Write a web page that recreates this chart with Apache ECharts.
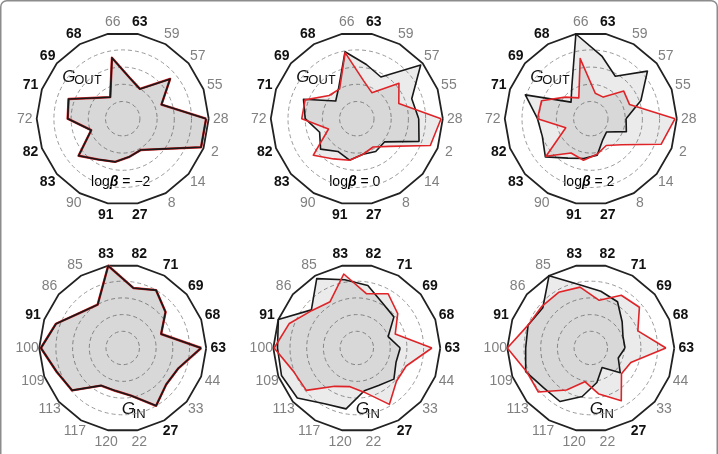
<!DOCTYPE html>
<html>
<head>
<meta charset="utf-8">
<script src="https://cdn.jsdelivr.net/npm/echarts@6/dist/echarts.min.js"></script>
<style>
  html, body { margin: 0; padding: 0; background: #fff; }
  #chart { width: 718px; height: 454px; }
</style>
</head>
<body>
<div id="chart"></div>
<script>
// 节点名称（逆时针，从右侧 0° 开始）
const outNames = ['28', '55', '57', '59', '63', '66', '68', '69', '71', '72', '82', '83', '90', '91', '27', '8', '14', '2'];
const inNames = ['63', '68', '69', '71', '82', '83', '85', '86', '91', '100', '109', '113', '117', '120', '22', '27', '33', '44'];
// 两个网络共有的节点 -> 粗体
const sharedNodes = ['63', '68', '69', '71', '82', '83', '91', '27'];
const betaLabels = ['\u22122', '0', '2'];

// G_OUT，logβ = -2 / 0 / 2（黑 = 灰色填充，红 = 对照）
const outBlackM2 = [4.85, 2.4, 3.6, 2.0, 2.4, 3.6, 1.45, 1.9, 3.35, 3.2, 1.95, 3.35, 2.75, 2.55, 2.25, 2.1, 2.75, 4.85];
const outRedM2 = [4.85, 2.4, 3.6, 2.0, 2.4, 3.6, 1.45, 1.9, 3.35, 3.2, 1.95, 3.35, 2.75, 2.55, 2.25, 2.1, 2.75, 4.85];
const outBlack0 = [3.6, 3.4, 4.85, 2.8, 3.2, 3.95, 2.1, 1.6, 3.3, 3.0, 2.3, 2.75, 2.2, 2.45, 2.1, 2.2, 2.1, 3.85];
const outRed0 = [4.9, 2.6, 3.2, 1.75, 2.25, 3.9, 2.0, 2.1, 3.2, 3.2, 1.75, 3.3, 2.7, 2.45, 2.1, 1.9, 2.5, 4.55];
const outBlackP2 = [2.05, 3.1, 4.3, 2.85, 3.7, 5.0, 2.2, 1.5, 4.05, 3.1, 3.0, 3.45, 2.65, 2.35, 2.15, 1.4, 1.2, 2.2];
const outRedP2 = [4.9, 2.4, 2.5, 1.45, 1.5, 3.55, 1.4, 1.95, 3.05, 3.1, 1.55, 3.4, 2.3, 2.45, 2.1, 1.8, 2.35, 4.35];

// G_IN
const inBlackM2 = [4.7, 2.45, 3.35, 4.0, 3.65, 5.0, 3.0, 3.3, 4.25, 4.9, 4.2, 3.95, 2.6, 2.6, 2.9, 4.0, 3.4, 3.55];
const inRedM2 = [4.7, 2.45, 3.35, 4.0, 3.65, 5.0, 3.0, 3.3, 4.25, 4.9, 4.2, 3.95, 2.6, 2.6, 2.9, 4.0, 3.4, 3.55];
const inBlack0 = [2.6, 2.0, 2.9, 3.1, 3.8, 4.15, 4.8, 3.55, 5.0, 4.75, 4.8, 4.65, 3.85, 3.7, 2.6, 2.6, 2.9, 2.5];
const inRed0 = [4.5, 2.45, 3.2, 3.75, 3.3, 4.5, 3.2, 3.5, 4.3, 4.95, 4.05, 3.95, 2.65, 2.35, 2.7, 3.9, 3.1, 3.15];
const inBlackP2 = [2.05, 2.05, 2.45, 3.2, 3.45, 3.85, 5.0, 3.75, 4.0, 3.9, 4.15, 3.7, 3.7, 2.95, 2.1, 1.35, 2.3, 1.75];
const inRedP2 = [4.5, 3.0, 3.8, 3.65, 2.9, 3.7, 3.85, 3.85, 4.0, 5.0, 4.1, 4.1, 2.9, 2.05, 2.8, 3.65, 2.4, 2.55];

const FONT = 'Liberation Sans, Arial, sans-serif';
const colX = [122.7, 356.8, 590.8];
const rowY = [118.7, 348];
const rowR = [86, 83.5];

const panels = [
  { row: 0, col: 0, names: outNames, black: outBlackM2, red: outRedM2, redBelow: true },
  { row: 0, col: 1, names: outNames, black: outBlack0, red: outRed0 },
  { row: 0, col: 2, names: outNames, black: outBlackP2, red: outRedP2 },
  { row: 1, col: 0, names: inNames, black: inBlackM2, red: inRedM2, redBelow: true },
  { row: 1, col: 1, names: inNames, black: inBlack0, red: inRed0 },
  { row: 1, col: 2, names: inNames, black: inBlackP2, red: inRedP2 }
]

const radars = []
const series = []
const graphics = []

// 虚线圆网格 + 节点名称
panels.forEach(p => {
  radars.push({
    center: [colX[p.col], rowY[p.row]],
    radius: rowR[p.row],
    startAngle: 0,
    shape: 'circle',
    splitNumber: 5,
    indicator: p.names.map(n => ({ name: n, min: 0, max: 5 })),
    nameGap: 12,
    axisName: {
      align: 'center',
      verticalAlign: 'middle',
      fontFamily: FONT,
      formatter: (name) => {
        if (p.row === 0 && name === '66') return '{gs|' + name + '}'
        return sharedNodes.includes(name) ? '{b|' + name + '}' : '{g|' + name + '}'
      },
      rich: {
        b: { fontSize: 14, fontWeight: 'bold', color: '#111', fontFamily: FONT },
        g: { fontSize: 14, color: '#808080', fontFamily: FONT },
        gs: { fontSize: 14, color: '#808080', fontFamily: FONT, padding: [0, 0, 0, 14] }
      }
    },
    axisLine: { show: false },
    axisTick: { show: false },
    axisLabel: { show: false },
    splitArea: { show: false },
    splitLine: {
      lineStyle: {
        color: ['transparent', '#9a9a9a', '#9a9a9a', '#9a9a9a', '#9a9a9a', 'transparent'],
        type: [4, 3],
        width: 1
      }
    }
  })
})

// 外框多边形
panels.forEach(p => {
  radars.push({
    center: [colX[p.col], rowY[p.row]],
    radius: rowR[p.row],
    startAngle: 0,
    shape: 'polygon',
    splitNumber: 1,
    indicator: p.names.map(n => ({ name: n, min: 0, max: 5 })),
    axisName: { show: false },
    axisLine: { show: false },
    axisTick: { show: false },
    axisLabel: { show: false },
    splitArea: { show: false },
    splitLine: { lineStyle: { color: ['transparent', '#222'], width: 1.8 } }
  })
})

panels.forEach((p, i) => {
  const black = {
    type: 'radar', radarIndex: i, symbol: 'none', silent: true,
    lineStyle: { color: '#1a1a1a', width: 1.6 },
    areaStyle: { color: 'rgba(0,0,0,0.11)' },
    data: [{ value: p.black }]
  }
  const red = {
    type: 'radar', radarIndex: i, symbol: 'none', silent: true,
    lineStyle: { color: '#e8262a', width: p.redBelow ? 2.4 : 1.6 },
    areaStyle: { color: 'rgba(0,0,0,0.11)' },
    data: [{ value: p.red }]
  }
  if (p.redBelow) series.push(red, black)
  else series.push(black, red)

  const cx = colX[p.col]
  const cy = rowY[p.row]
  if (p.row === 0) {
    graphics.push({
      type: 'text', x: cx - 60.5, y: cy - 41.5,
      style: { text: 'G', font: 'italic 17px ' + FONT, fill: '#111', verticalAlign: 'middle' }
    })
    graphics.push({
      type: 'text', x: cx - 48.5, y: cy - 38,
      style: { text: 'OUT', font: '13px ' + FONT, fill: '#111', verticalAlign: 'middle' }
    })
    graphics.push({
      type: 'text', x: cx - 2, y: cy + 63.5,
      style: {
        text: '{n|log}{b|\u03b2}{n| = ' + betaLabels[p.col] + '}',
        align: 'center', verticalAlign: 'middle',
        rich: {
          n: { fontSize: 14, fontFamily: FONT, color: '#111' },
          b: { fontSize: 14, fontFamily: FONT, color: '#111', fontWeight: 'bold', fontStyle: 'italic' }
        }
      }
    })
  } else {
    graphics.push({
      type: 'text', x: cx - 1, y: cy + 61.5,
      style: { text: 'G', font: 'italic 17px ' + FONT, fill: '#111', verticalAlign: 'middle' }
    })
    graphics.push({
      type: 'text', x: cx + 10, y: cy + 66.5,
      style: { text: 'IN', font: '13px ' + FONT, fill: '#111', verticalAlign: 'middle' }
    })
  }
})

// 外圈圆角边框
graphics.push({
  type: 'rect', z: -1,
  shape: { x: 0.75, y: 0.75, width: 716.5, height: 470, r: 6 },
  style: { fill: 'none', stroke: '#8c8c8c', lineWidth: 1.5 }
})

const chart = echarts.init(document.getElementById('chart'))
chart.setOption({
  animation: false,
  backgroundColor: '#fff',
  radar: radars,
  series: series,
  graphic: graphics
})
</script>
</body>
</html>
